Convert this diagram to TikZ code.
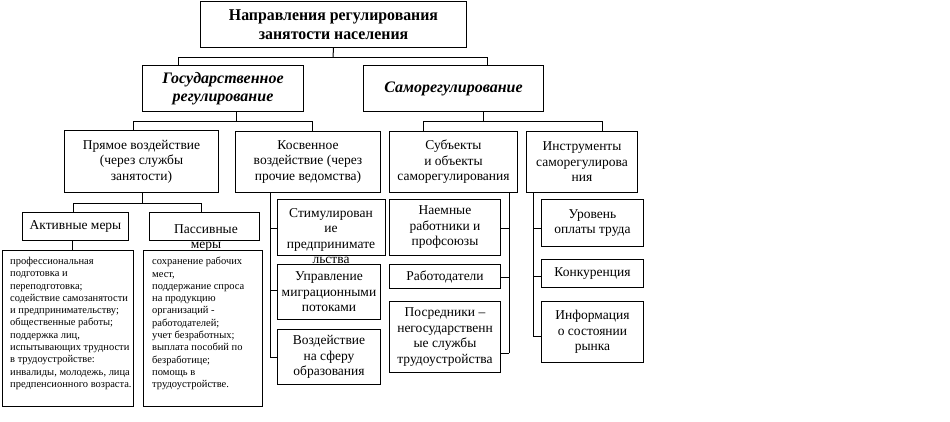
\documentclass[tikz,border=0pt]{standalone}
\usepackage{fontspec}
\setmainfont{Liberation Serif}
\newfontfamily\topfont[FakeStretch=0.96]{Liberation Serif}
\usetikzlibrary{calc}
\tikzset{
  box/.style={draw, line width=1pt, inner sep=0pt, align=center, anchor=north west},
  conn/.style={line width=1pt},
  midtxt/.style={font=\fontsize{13.5}{15.5}\selectfont, align=center, inner sep=0pt},
  dettxt/.style={font=\fontsize{10.5}{12.3}\selectfont, align=left, inner sep=0pt, anchor=north west},
  bigtxt/.style={font=\topfont\bfseries\fontsize{16.5}{19}\selectfont},
  ittxt/.style={font=\bfseries\itshape\fontsize{16}{18}\selectfont},
}
\begin{document}
\begin{tikzpicture}[x=1pt,y=-1pt]
\useasboundingbox (0,0) rectangle (950,421);
% level 0
\node[box, bigtxt, minimum width=266pt, minimum height=46pt] (top) at (200,1) {Направления регулирования\\занятости населения};
% level 1
\node[box, ittxt, minimum width=161pt, minimum height=46pt] (gos) at (142,65) {Государственное\\регулирование};
\node[box, ittxt, minimum width=180pt, minimum height=46pt] (samo) at (363,65) {Саморегулирование};
% level 2
\node[box, midtxt, minimum width=154pt, minimum height=62pt] (pryam) at (64,130) {Прямое воздействие\\(через службы\\занятости)};
\node[box, midtxt, minimum width=145pt, minimum height=61pt] (kosv) at (235,131) {Косвенное\\воздействие (через\\прочие ведомства)};
\node[box, midtxt, minimum width=128pt, minimum height=61pt] (subj) at (389,131) {Субъекты\\и объекты\\саморегулирования};
\node[box, midtxt, minimum width=111pt, minimum height=61pt] (instr) at (526,131) {Инструменты\\саморегулирова\\ния};
% level 3 left
\node[box, midtxt, minimum width=106pt, minimum height=28pt] (activ) at (22,212) {Активные меры};
\node[box, minimum width=110pt, minimum height=28pt] (passiv) at (149,212) {};
\node[midtxt, anchor=north] (passivt) at (206,224) {Пассивные\\меры};
\node[box, minimum width=131pt, minimum height=156pt] (actdet) at (2,250) {};
\node[dettxt] (actdett) at (10,257) {профессиональная\\подготовка и\\переподготовка;\\содействие самозанятости\\и предпринимательству;\\общественные работы;\\поддержка лиц,\\испытывающих трудности\\в трудоустройстве:\\инвалиды, молодежь, лица\\предпенсионного возраста.};
\node[box, minimum width=119pt, minimum height=156pt] (pasdet) at (143,250) {};
\node[dettxt] (pasdett) at (152,257) {сохранение рабочих\\мест,\\поддержание спроса\\на продукцию\\организаций -\\работодателей;\\учет безработных;\\выплата пособий по\\безработице;\\помощь в\\трудоустройстве.};
% kosv children
\node[box, minimum width=108pt, minimum height=56pt] (stim) at (277,199) {};
\node[midtxt, anchor=north] (stimt) at (331,208) {Стимулирован\\ие\\предпринимате\\льства};
\node[box, midtxt, minimum width=103pt, minimum height=55pt] (upr) at (277,264) {Управление\\миграционными\\потоками};
\node[box, midtxt, minimum width=103pt, minimum height=55pt] (vozd) at (277,329) {Воздействие\\на сферу\\образования};
% subj children
\node[box, midtxt, minimum width=111pt, minimum height=56pt] (naem) at (389,199) {Наемные\\работники и\\профсоюзы};
\node[box, midtxt, minimum width=111pt, minimum height=24pt] (rabot) at (389,264) {Работодатели};
\node[box, midtxt, minimum width=111pt, minimum height=71pt] (posr) at (389,301) {Посредники –\\негосударственн\\ые службы\\трудоустройства};
% instr children
\node[box, midtxt, minimum width=102pt, minimum height=47pt] (urov) at (541,199) {Уровень\\оплаты труда};
\node[box, midtxt, minimum width=102pt, minimum height=28pt] (konk) at (541,259) {Конкуренция};
\node[box, midtxt, minimum width=102pt, minimum height=61pt] (inf) at (541,301) {Информация\\о состоянии\\рынка};
% connectors
\coordinate (j0) at (333,57);
\draw[conn] (top.south) -- (j0);
\draw[conn] (gos.north -| 178,0) -- (178,57) -- (487,57) -- (samo.north -| 487,0);
\draw[conn] (gos.south -| 236,0) -- (236,121);
\draw[conn] (pryam.north -| 133,0) -- (133,121) -- (312,121) -- (kosv.north -| 312,0);
\draw[conn] (samo.south -| 483,0) -- (483,121);
\draw[conn] (subj.north -| 423,0) -- (423,121) -- (602,121) -- (instr.north -| 602,0);
\draw[conn] (pryam.south -| 142,0) -- (142,203);
\draw[conn] (activ.north -| 73,0) -- (73,203) -- (201,203) -- (passiv.north -| 201,0);
\draw[conn] (activ.south -| 72,0) -- (actdet.north -| 72,0);
% kosv spine
\draw[conn] (kosv.south -| 270,0) -- (270,357);
\draw[conn] (270,228) -- (stim.west |- 0,228);
\draw[conn] (270,290) -- (upr.west |- 0,290);
\draw[conn] (270,357) -- (vozd.west |- 0,357);
% subj spine
\draw[conn] (subj.south -| 509,0) -- (509,353);
\draw[conn] (509,228) -- (naem.east |- 0,228);
\draw[conn] (509,277) -- (rabot.east |- 0,277);
\draw[conn] (509,353) -- (posr.east |- 0,353);
% instr spine
\draw[conn] (instr.south -| 533,0) -- (533,336);
\draw[conn] (533,228) -- (urov.west |- 0,228);
\draw[conn] (533,276) -- (konk.west |- 0,276);
\draw[conn] (533,336) -- (inf.west |- 0,336);
\end{tikzpicture}
\end{document}
